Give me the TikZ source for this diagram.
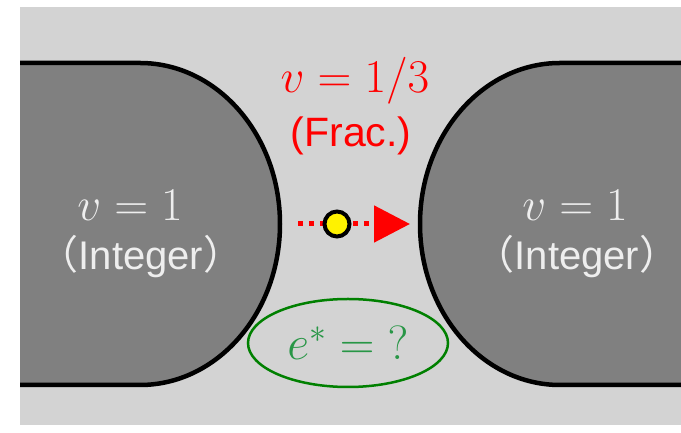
\documentclass[tikz,border=0pt]{standalone}
\usepackage{fix-cm}
\usepackage{fontspec}
\setsansfont{Liberation Sans}
\newfontfamily\cjk{Noto Sans CJK JP}
\usepackage{xcolor}
\definecolor{qhBack}{RGB}{211,211,211}
\definecolor{qhBlob}{RGB}{128,128,128}
\definecolor{qhLight}{RGB}{238,238,238}
\definecolor{qhRed}{RGB}{255,0,0}
\definecolor{qhGreen}{RGB}{40,150,70}
\definecolor{qhRing}{RGB}{0,128,0}
\usepackage{tikz}
\usetikzlibrary{arrows.meta,shapes.geometric}

\begin{document}
\begin{tikzpicture}[x=1pt,y=1pt,
  edge/.style={line width=4.5pt,black},
  lbl/.style={text=qhLight,anchor=base,inner sep=0pt,font=\fontsize{47}{50}\selectfont},
  sub/.style={text=qhLight,anchor=base,inner sep=0pt,font=\sffamily\fontsize{40}{44}\selectfont},
  flow/.style={qhRed,line width=5pt,dash pattern=on 5pt off 6pt,
    -{Triangle[length=36pt,width=36pt]}}]
  \useasboundingbox (0,0) rectangle (681,433);
  \fill[qhBack] (20,8) rectangle (681,426);
  % the two integer regions
  \fill[qhBlob] (20,370) -- (140,370) arc[start angle=90,end angle=-90,x radius=140,y radius=161] -- (20,48) -- cycle;
  \draw[edge] (20,370) -- (140,370) arc[start angle=90,end angle=-90,x radius=140,y radius=161] -- (20,48);
  \fill[qhBlob] (681,370) -- (560,370) arc[start angle=90,end angle=270,x radius=140,y radius=161] -- (681,48) -- cycle;
  \draw[edge] (681,370) -- (560,370) arc[start angle=90,end angle=270,x radius=140,y radius=161] -- (681,48);
  % labels
  \node[lbl] (vl) at (130,212) {$v=1$};
  \node[sub] (il) at (141,163) {{\cjk （}Integer{\cjk ）}};
  \node[lbl] (vr) at (575,212) {$v=1$};
  \node[sub] (ir) at (577,163) {{\cjk （}Integer{\cjk ）}};
  \node[lbl,text=qhRed,font=\fontsize{47}{50}\selectfont] (vf) at (355,340) {$v=1/3$};
  \node[sub,text=qhRed,font=\sffamily\fontsize{41}{44}\selectfont] (fr) at (351,286) {(Frac.)};
  % quasiparticle
  \coordinate (s) at (298,209);
  \coordinate (t) at (410,209);
  \draw[flow] (s) -- (t);
  \node[circle,draw=black,line width=4pt,fill=yellow,minimum size=25pt,inner sep=0pt] (q) at (337,209) {};
  \node[ellipse,draw=qhRing,line width=2.5pt,minimum width=200pt,minimum height=88pt,inner sep=0pt,
    text=qhGreen,font=\fontsize{48}{52}\selectfont] (ch) at (348,90) {$e^{*}=\mathord{?}$};
\end{tikzpicture}
\end{document}
